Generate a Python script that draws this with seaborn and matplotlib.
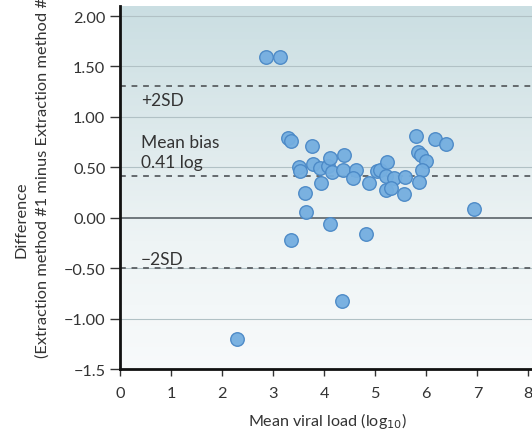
import numpy as np
import pandas as pd
import matplotlib
matplotlib.use("Agg")
import matplotlib.pyplot as plt
from matplotlib.colors import LinearSegmentedColormap
import seaborn as sns

# mean viral load (log10) and difference between extraction methods
mean_load = [2.86, 3.13, 3.29, 3.35, 3.77, 3.50, 3.53, 3.78, 3.92, 4.07,
             4.12, 4.15, 3.94, 4.39, 4.37, 4.62, 4.56, 3.62, 3.65, 4.88,
             5.04, 5.09, 5.22, 5.21, 5.36, 5.21, 5.31, 5.59, 5.56, 5.80,
             5.84, 5.90, 6.00, 5.92, 5.86, 6.17, 6.39, 6.94, 4.12, 3.34,
             4.82, 4.35, 2.29]
difference = [1.59, 1.59, 0.79, 0.76, 0.71, 0.50, 0.46, 0.53, 0.49, 0.51,
              0.59, 0.45, 0.34, 0.62, 0.47, 0.47, 0.39, 0.25, 0.06, 0.34,
              0.46, 0.47, 0.55, 0.41, 0.39, 0.28, 0.29, 0.40, 0.24, 0.81,
              0.65, 0.62, 0.56, 0.47, 0.35, 0.78, 0.73, 0.09, -0.06, -0.22,
              -0.16, -0.83, -1.20]

mean_bias = 0.41
upper_limit = 1.31
lower_limit = -0.50

y_ticks = [2.0, 1.5, 1.0, 0.5, 0.0, -0.5, -1.0, -1.5]
y_tick_labels = ["2.00", "1.50", "1.00", "0.50", "0.00", "\u22120.50", "\u22121.00", "\u22121.5"]
x_ticks = [0, 1, 2, 3, 4, 5, 6, 7, 8]

df = pd.DataFrame({"mean": mean_load, "diff": difference})

sns.set_style("ticks")
plt.rcParams["font.family"] = ["Lato", "DejaVu Sans"]

fig = plt.figure(figsize=(5.32, 4.35), dpi=100)
ax = fig.add_axes([0.2256, 0.1494, 0.7744, 0.8346])

xmin, xmax, ymin, ymax = 0, 8.07, -1.5, 2.10
txt = "#333333"

# background gradient: pale teal at top fading to white
cmap = LinearSegmentedColormap.from_list(
    "bg", [(0, "#f8fafb"), (0.35, "#eef4f5"), (0.6, "#e0ebed"), (1, "#cadee2")])
grad = np.linspace(0, 1, 256).reshape(-1, 1)
ax.imshow(grad, extent=[xmin, xmax, ymin, ymax], origin="lower", aspect="auto",
          cmap=cmap, zorder=0)

for yt in y_ticks[:-1]:
    if yt == 0:
        ax.axhline(yt, color="#6f777c", lw=1.4, zorder=1)
    else:
        ax.axhline(yt, color="#b1c1c5", lw=0.8, zorder=1)

for yl in [upper_limit, mean_bias, lower_limit]:
    ax.axhline(yl, color="#5a5f63", lw=1.3, ls=(0, (3.2, 3.2)), zorder=1.5)

sns.scatterplot(data=df, x="mean", y="diff", ax=ax, s=95, color="#74aee0",
                edgecolor="#4a88c6", linewidth=1.0, alpha=0.95, zorder=3)

ax.text(0.41, 1.12, "+2SD", fontsize=12.5, color=txt, va="baseline")
ax.text(0.41, 0.70, "Mean bias", fontsize=12.5, color=txt, va="baseline")
ax.text(0.41, 0.505, "0.41 log", fontsize=12.5, color=txt, va="baseline")
ax.text(0.41, -0.46, "\u22122SD", fontsize=12.5, color=txt, va="baseline")

ax.set_xlim(xmin, xmax)
ax.set_ylim(ymin, ymax)
ax.set_yticks(y_ticks)
ax.set_yticklabels(y_tick_labels)
ax.set_xticks(x_ticks)
ax.tick_params(axis="y", direction="out", length=7.5, width=1.0, labelsize=11.7,
               colors=txt, pad=3)
ax.tick_params(axis="x", direction="out", length=5, width=1.0, labelsize=11.7,
               colors=txt, pad=7)
for s in ["top", "right"]:
    ax.spines[s].set_visible(False)
for s in ["left", "bottom"]:
    ax.spines[s].set_linewidth(2.0)
    ax.spines[s].set_color("#111111")
ax.set_xlabel("")
ax.set_ylabel("")

fig.text(327 / 532, 1 - 421 / 435, "Mean viral load (log$_{10}$)", ha="center",
         va="center", fontsize=11.6, color=txt)
fig.text(21.5 / 532, 1 - 220 / 435, "Difference", rotation=90, ha="center",
         va="center", fontsize=11.8, color=txt)
fig.text(43 / 532, 1 - 358 / 435, "(Extraction method #1 minus Extraction method #2)",
         rotation=90, ha="center", va="bottom", fontsize=11.8, color=txt)

fig.savefig("out.png", dpi=100)
